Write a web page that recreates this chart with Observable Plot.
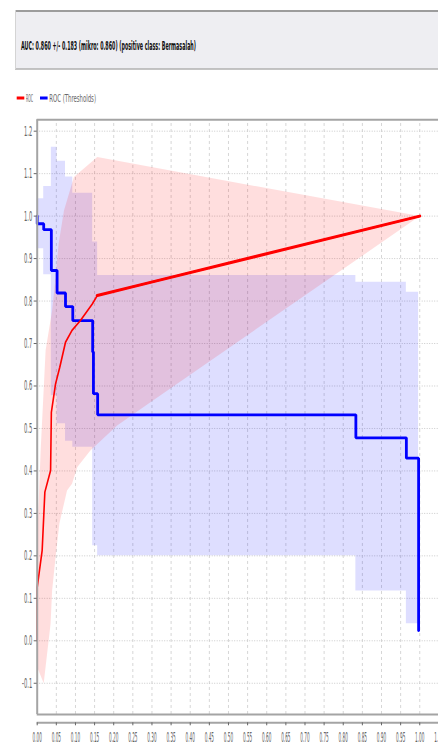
<!DOCTYPE html>
<html><head><meta charset="utf-8">
<script src="https://cdn.jsdelivr.net/npm/d3@7"></script>
<script src="https://cdn.jsdelivr.net/npm/@observablehq/plot@0.6"></script>
<style>
html,body{margin:0;padding:0;background:#fff;overflow:hidden;width:438px;height:747px;}
svg{display:block;}
#chart svg{overflow:visible;}
</style></head><body>
<svg id="header" width="438" height="110"></svg>
<div id="chart"></div>
<script>
const titleText = "AUC: 0.860 +/- 0.183 (mikro: 0.860) (positive class: Bermasalah)";
const legendLabels = ["ROC", "ROC (Thresholds)"];
const legendColors = ["#ff0000", "#0000ff"];

// Mean ROC curve (red)
const rocX = [0, 0, 0.013, 0.020, 0.035, 0.037, 0.048, 0.059, 0.074, 0.091, 0.113, 0.144, 0.157, 0.296, 1.0];
const rocY = [0, 0.126, 0.213, 0.350, 0.401, 0.538, 0.605, 0.644, 0.703, 0.731, 0.754, 0.793, 0.813, 0.844, 1.0];

// ROC +/- std band (pink): upper edge, then lower edge
const rocUpperX = [0, 0.004, 0.009, 0.022, 0.039, 0.048, 0.056, 0.070, 0.096, 0.157, 1.0];
const rocUpperY = [0.25, 0.33, 0.448, 0.684, 0.778, 0.856, 0.935, 1.013, 1.092, 1.139, 1.0];
const rocLowerX = [0, 0.017, 0.035, 0.039, 0.048, 0.058, 0.078, 0.091, 0.105, 0.139, 0.209, 0.296, 1.0];
const rocLowerY = [-0.062, -0.1, 0.04, 0.118, 0.197, 0.276, 0.354, 0.37, 0.409, 0.448, 0.507, 0.562, 1.0];

// ROC (Thresholds) step curve (blue)
const thrX = [0, 0, 0.017, 0.037, 0.052, 0.074, 0.093, 0.145, 0.147, 0.158, 0.833, 0.965, 0.997];
const thrY = [1.0, 0.982, 0.968, 0.872, 0.819, 0.787, 0.754, 0.680, 0.582, 0.532, 0.478, 0.430, 0.024];

// Thresholds +/- std band (light blue), step shaped
const thrBandX  = [0, 0.017, 0.037, 0.052, 0.074, 0.093, 0.145, 0.158, 0.833, 0.965, 0.997];
const thrBandHi = [1.041, 1.070, 1.162, 1.129, 1.092, 1.054, 0.939, 0.860, 0.844, 0.821, 0.821];
const thrBandLo = [0.923, 0.862, 0.577, 0.511, 0.470, 0.456, 0.224, 0.200, 0.117, 0.040, 0.040];

const xTicks = [0, 0.05, 0.10, 0.15, 0.20, 0.25, 0.30, 0.35, 0.40, 0.45, 0.50, 0.55, 0.60, 0.65, 0.70, 0.75, 0.80, 0.85, 0.90, 0.95, 1.00, 1.05];
const yTicks = [-0.1, 0.0, 0.1, 0.2, 0.3, 0.4, 0.5, 0.6, 0.7, 0.8, 0.9, 1.0, 1.1, 1.2];

const xDomain = [0, 1.049];
const yDomain = [-0.1931, 1.2268];
const frameBottom = -0.1735;

// ---- header (title box + legend)
const hdr = d3.select("#header");
hdr.append("rect").attr("x", 15).attr("y", 10).attr("width", 430).attr("height", 59).attr("fill", "#eeeef2");
hdr.append("line").attr("x1", 15).attr("x2", 438).attr("y1", 11).attr("y2", 11).attr("stroke", "#9c9c9c").attr("stroke-width", 2);
hdr.append("line").attr("x1", 15).attr("x2", 438).attr("y1", 69).attr("y2", 69).attr("stroke", "#b0b0b0").attr("stroke-width", 1.5);
hdr.append("line").attr("x1", 15.5).attr("x2", 15.5).attr("y1", 10).attr("y2", 69).attr("stroke", "#d4d4d4").attr("stroke-width", 1);
hdr.append("text").attr("x", 21).attr("y", 50).attr("font-family", "DejaVu Sans").attr("font-size", 11.5)
  .attr("font-weight", "bold").attr("fill", "#111").attr("textLength", 175).attr("lengthAdjust", "spacingAndGlyphs").text(titleText);
const legX = [16.7, 40];
const legW = [7, 46.7];
legendLabels.forEach((lab, i) => {
  hdr.append("rect").attr("x", legX[i]).attr("y", 96.5).attr("width", 7.6).attr("height", 3).attr("fill", legendColors[i]);
  hdr.append("text").attr("x", legX[i] + 9.3).attr("y", 101.5).attr("font-family", "DejaVu Sans").attr("font-size", 10)
    .attr("fill", "#666").attr("textLength", legW[i]).attr("lengthAdjust", "spacingAndGlyphs").text(lab);
});

// ---- chart
const roc = rocX.map((x, i) => ({x, y: rocY[i]}));
const rocBand = rocUpperX.map((x, i) => ({x, y: rocUpperY[i]}))
  .concat(rocLowerX.map((x, i) => ({x, y: rocLowerY[i]})).reverse());
const thr = thrX.map((x, i) => ({x, y: thrY[i]}));
const thrBand = thrBandX.map((x, i) => ({x, hi: thrBandHi[i], lo: thrBandLo[i]}));

const plot = Plot.plot({
  width: 438,
  height: 637,
  marginTop: 9.3,
  marginBottom: 24.7,
  marginLeft: 36.7,
  marginRight: 0,
  style: {fontFamily: "DejaVu Sans", overflow: "visible", background: "transparent"},
  x: {domain: xDomain, axis: null},
  y: {domain: yDomain, axis: null},
  marks: [
    Plot.ruleX(xTicks.slice(1), {y1: frameBottom, y2: yDomain[1], stroke: "#d6d6d6", strokeDasharray: "3,3", strokeWidth: 1}),
    Plot.ruleY(yTicks, {stroke: "#cacaca", strokeDasharray: "1,1.5", strokeWidth: 1}),
    Plot.areaY(thrBand, {x: "x", y1: "lo", y2: "hi", curve: "step-after", fill: "#0000ff", fillOpacity: 0.13}),
    Plot.line(rocBand, {x: "x", y: "y", fill: "#ff0000", fillOpacity: 0.13, stroke: "none", curve: "linear"}),
    Plot.line(thr, {x: "x", y: "y", curve: "step-after", stroke: "#0000ff", strokeWidth: 2.8, strokeLinejoin: "miter"}),
    Plot.line(roc, {x: "x", y: "y", stroke: "#ff0000", strokeWidth: 1.6}),
    Plot.line(roc.filter(d => d.x >= 0.157), {x: "x", y: "y", stroke: "#ff0000", strokeWidth: 3}),
    Plot.ruleY([yDomain[1]], {stroke: "#a4a4a4", strokeWidth: 2}),
    Plot.ruleY([frameBottom], {stroke: "#a4a4a4", strokeWidth: 2}),
    Plot.ruleY([yDomain[0]], {stroke: "#a4a4a4", strokeWidth: 2}),
    Plot.ruleX([0], {y1: frameBottom, y2: yDomain[1], stroke: "#a4a4a4", strokeWidth: 2}),
    Plot.axisY(yTicks, {anchor: "left", label: null, tickSize: 3, tickPadding: 2, tickFormat: d => d.toFixed(1), fontSize: 14, color: "#666"}),
    Plot.axisX(xTicks, {anchor: "bottom", label: null, tickSize: 3, tickPadding: 6, tickFormat: d => d.toFixed(2), fontSize: 14, color: "#666"})
  ]
});
document.getElementById("chart").appendChild(plot);

// condense tick labels like the reference
d3.select(plot).selectAll('g[aria-label="y-axis tick label"] text').each(function() {
  const t = this.getAttribute("transform") || "";
  this.setAttribute("transform", t + " scale(0.37,1)");
});
d3.select(plot).selectAll('g[aria-label="x-axis tick label"] text').each(function() {
  const t = this.getAttribute("transform") || "";
  this.setAttribute("transform", t + " scale(0.3,1)");
});
</script>
</body></html>
